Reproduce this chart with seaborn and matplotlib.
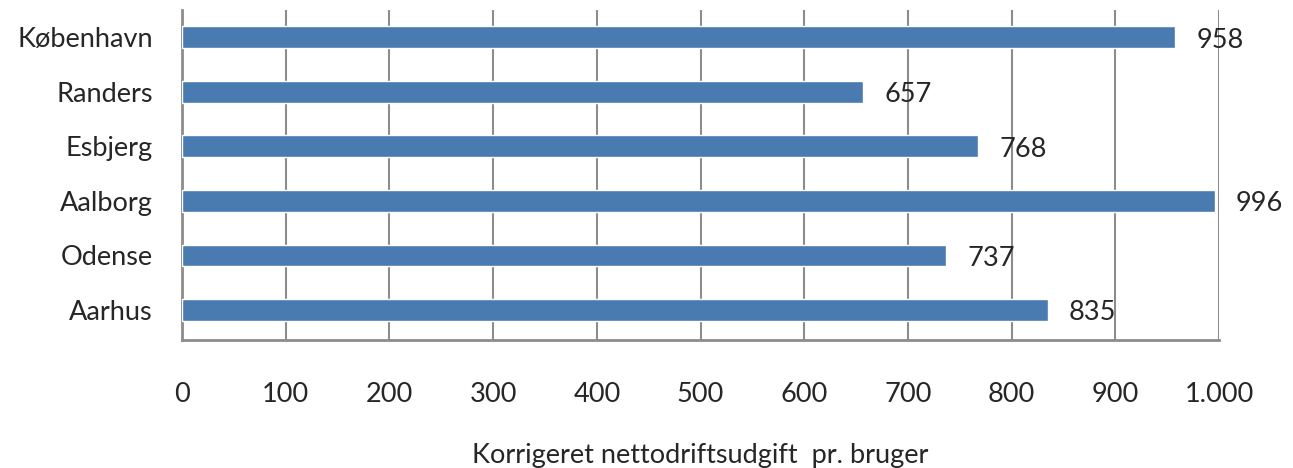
import matplotlib
matplotlib.use('Agg')
import matplotlib.pyplot as plt
import seaborn as sns
import pandas as pd

# data
cities = ['København', 'Randers', 'Esbjerg', 'Aalborg', 'Odense', 'Aarhus']
udgift = [958, 657, 768, 996, 737, 835]
x_ticks = [0, 100, 200, 300, 400, 500, 600, 700, 800, 900, 1000]
x_labels = ['0', '100', '200', '300', '400', '500', '600', '700', '800', '900', '1.000']

sns.set_style('white')
plt.rcParams['font.family'] = ['Lato', 'DejaVu Sans']
fs = 19.5

df = pd.DataFrame({'by': cities, 'udgift': udgift})

fig = plt.figure(figsize=(12.93, 4.68), dpi=100)
ax = fig.add_axes([0.1408, 0.2735, 0.8020, 0.7051])

sns.barplot(data=df, x='udgift', y='by', orient='h', color='#4a7bb0',
            width=0.4, saturation=1, ax=ax, zorder=3)

# værdier ved søjlerne
for i, v in enumerate(udgift):
    ax.text(v + 20, i + 0.05, str(v), ha='left', va='center', fontsize=fs)

ax.set_xlim(0, 1000)
ax.set_ylim(5.55, -0.5)
ax.set_xticks(x_ticks)
ax.set_xticklabels(x_labels, fontsize=fs)
ax.tick_params(axis='x', length=0, pad=30)
ax.tick_params(axis='y', length=0, pad=21, labelsize=fs)
ax.grid(axis='x', color='#8c8c8c', linewidth=1.5, zorder=0)
ax.grid(axis='y', visible=False)
ax.spines['top'].set_visible(False)
ax.spines['right'].set_visible(False)
for s in ['left', 'bottom']:
    ax.spines[s].set_color('#8c8c8c')
    ax.spines[s].set_linewidth(2)

ax.set_ylabel('')
ax.set_xlabel('Korrigeret nettodriftsudgift  pr. bruger', fontsize=fs, labelpad=26)

fig.savefig('out.png', dpi=100)
